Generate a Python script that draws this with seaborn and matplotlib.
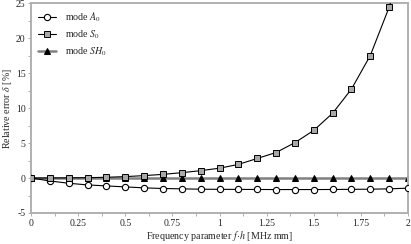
import numpy as np
import pandas as pd
import matplotlib
matplotlib.use("Agg")
import matplotlib.pyplot as plt
import seaborn as sns
from matplotlib.ticker import MultipleLocator

freq = [0.0, 0.1, 0.2, 0.3, 0.4, 0.5, 0.6, 0.7, 0.8, 0.9, 1.0,
        1.1, 1.2, 1.3, 1.4, 1.5, 1.6, 1.7, 1.8, 1.9, 2.0]
err_A0 = [0.0, -0.42, -0.75, -0.99, -1.13, -1.27, -1.41, -1.50, -1.55, -1.60, -1.62,
          -1.63, -1.64, -1.65, -1.65, -1.65, -1.64, -1.62, -1.60, -1.55, -1.45]
err_S0 = [0.0, 0.01, 0.02, 0.05, 0.10, 0.20, 0.34, 0.52, 0.76, 1.05, 1.40,
          1.94, 2.79, 3.64, 5.05, 6.80, 9.25, 12.7, 17.5, 24.4, 33.5]
err_SH0 = [0.0] * 21

labels = ["mode $A_0$", "mode $S_0$", "mode $SH_0$"]
xtick_vals = [0, 0.25, 0.5, 0.75, 1, 1.25, 1.5, 1.75, 2]
xtick_labels = ["0", "0.25", "0.5", "0.75", "1", "1.25", "1.5", "1.75", "2"]

sns.set_style("ticks")
plt.rcParams['font.family'] = ['Liberation Serif', 'DejaVu Serif']
plt.rcParams['mathtext.fontset'] = 'stix'
plt.rcParams['axes.unicode_minus'] = False
plt.rcParams['font.size'] = 7

fig = plt.figure(figsize=(4.11, 2.44), dpi=100)
ax = fig.add_axes([31/411, 1-213/244, 377/411, 210/244])

df_a = pd.DataFrame({"f": freq, "e": err_A0})
df_s = pd.DataFrame({"f": freq, "e": err_S0})
df_h = pd.DataFrame({"f": freq, "e": err_SH0})

sns.lineplot(data=df_h, x="f", y="e", ax=ax, color="#808080", lw=1.8,
             marker="^", markersize=4.5, markerfacecolor="black",
             markeredgecolor="black", label=labels[2], zorder=2)
sns.lineplot(data=df_a, x="f", y="e", ax=ax, color="black", lw=0.8,
             marker="o", markersize=4.5, markerfacecolor="white",
             markeredgecolor="black", markeredgewidth=0.8, label=labels[0], zorder=3)
sns.lineplot(data=df_s, x="f", y="e", ax=ax, color="black", lw=0.8,
             marker="s", markersize=4.0, markerfacecolor="#a8a8a8",
             markeredgecolor="black", markeredgewidth=0.7, label=labels[1], zorder=4)

ax.set_xlim(0, 2)
ax.set_ylim(-5, 25)
ax.set_xticks(xtick_vals)
ax.set_xticklabels(xtick_labels)
ax.xaxis.set_minor_locator(MultipleLocator(0.125))
ax.yaxis.set_major_locator(MultipleLocator(5))
ax.yaxis.set_minor_locator(MultipleLocator(2.5))
ax.tick_params(which="both", direction="out", length=2, width=0.6, color="#a0a0a0",
               labelsize=7, pad=2)
for s in ax.spines.values():
    s.set_color("#b0b0b0")
    s.set_linewidth(1.4)

ax.set_xlabel("Frequency parameter $f\\!\\cdot\\! h$ [MHz mm]", fontsize=7.2, labelpad=1)
ax.set_ylabel("Relative error $\\delta$ [%]", fontsize=7.2, labelpad=1)

h, l = ax.get_legend_handles_labels()
order = [l.index(x) for x in labels]
ax.legend([h[i] for i in order], [l[i] for i in order], loc="upper left",
          frameon=False, fontsize=7.2, handlelength=1.8, handletextpad=0.9,
          labelspacing=0.45, borderaxespad=0.3)

fig.savefig("out.png", dpi=100)
